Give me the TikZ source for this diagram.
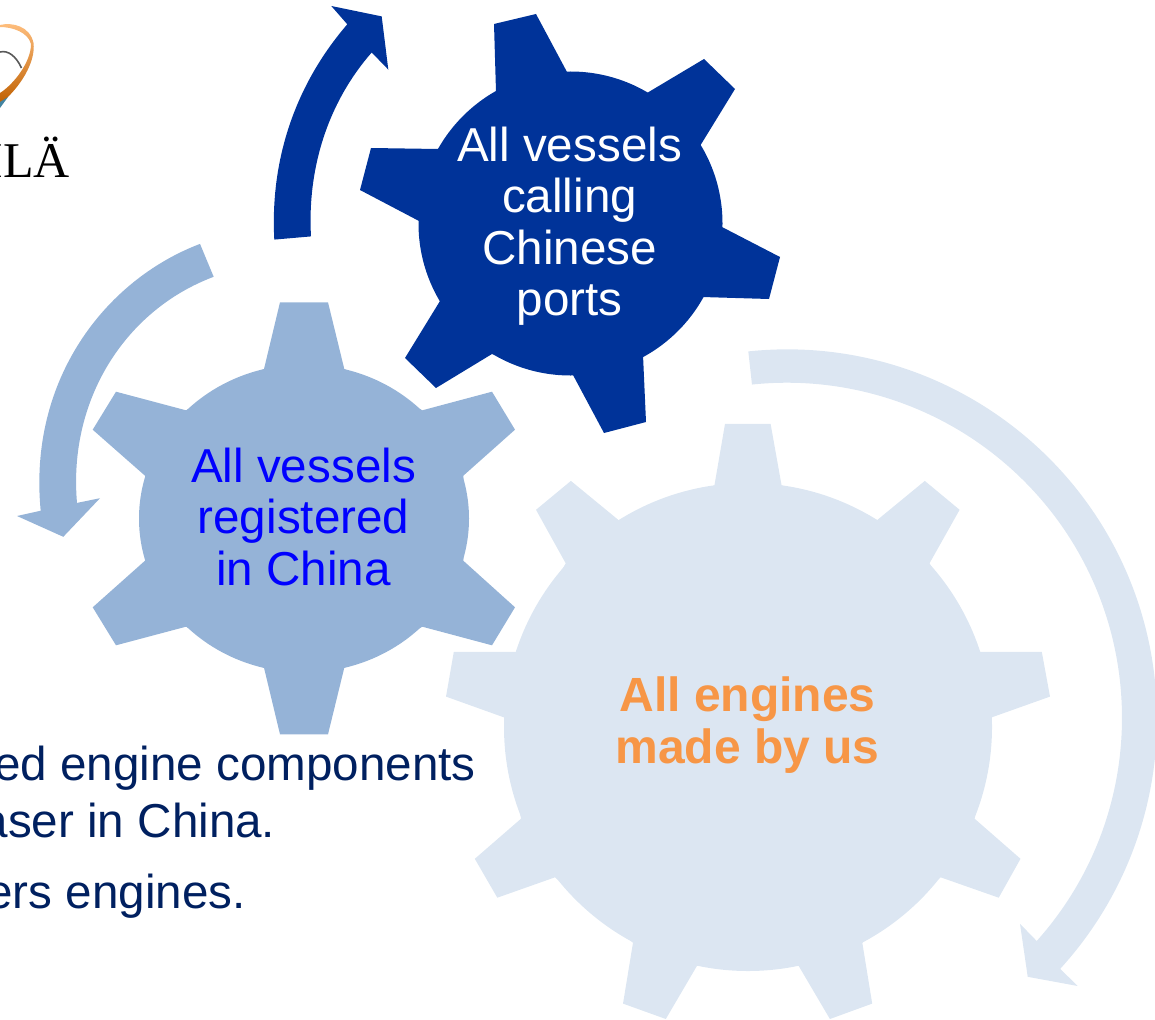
\documentclass[tikz,border=0pt]{standalone}
\usepackage{fontspec}
\setmainfont{Liberation Sans}
\newfontfamily\logofont{Liberation Serif}
\definecolor{darkblue}{HTML}{003399}
\definecolor{midblue}{HTML}{95B3D7}
\definecolor{paleblue}{HTML}{DCE6F2}
\definecolor{navy}{HTML}{002060}
\definecolor{labelorange}{HTML}{F79646}
\tikzset{
	gearlabel/.style={align=center,inner sep=0pt,font=\fontsize{47.6}{51.5}\selectfont},
	bodytext/.style={anchor=base east,inner sep=0pt,text=navy,font=\fontsize{47.6}{57}\selectfont}
}
\begin{document}
\begin{tikzpicture}[x=1pt,y=-1pt,line join=round]
	\clip (0,0) rectangle (1155,1019);
	% logo remains
	\shade[top color=orange!50,bottom color=orange!75!black]
	(0,25) .. controls (12,22) and (30,26) .. (33.5,43) .. controls (36,62) and (20,88) .. (0,104)
	-- (0,93) .. controls (14,84) and (31,62) .. (31,44) .. controls (28,32) and (12,27) .. (0,27) -- cycle;
	\fill[cyan!60!black] (0,102) -- (8,97) -- (0,108) -- cycle;
	\draw[gray!70!black,line width=1.6pt] (0,52) .. controls (8,50) and (16,56) .. (21.5,68);
	\node[inner sep=0pt,anchor=base east,font=\logofont\fontsize{50}{50}\selectfont] (logotext) at (70,177) {ILÄ};
	% arrows
	\fill[darkblue] (274.3,239.6) .. controls (270,160) and (295,85) .. (347.3,24.3)
	-- (331.3,6) -- (381.7,16.4) -- (388.3,69.6) -- (371.7,52.5)
	.. controls (330,100) and (307,165) .. (311,236.4) -- cycle;
	\fill[midblue] (200,243.9) .. controls (105,280) and (28,380) .. (40.7,510.7)
	-- (17,516) -- (63.3,536.8) -- (100,498.2) -- (77,502.9)
	.. controls (68,400) and (125,310) .. (213.7,276.8) -- cycle;
	\fill[paleblue] (748.3,351.4) arc[start angle=96,end angle=-42.4,radius=370pt]
	-- (1077.7,986) -- (1027.7,976.8) -- (1020,923.8) -- (1036.7,941)
	arc[start angle=-41.8,end angle=96,radius=335pt] -- cycle;
	% dark gear
	\fill[darkblue] (570.5,223.5) circle[radius=152pt];
	\fill[darkblue] (494,24) -- (536,14) -- (567,72) -- (647,93) -- (704,59) -- (735,89) -- (700,146)
	-- (722,227) -- (780,257) -- (769,299) -- (702,297) -- (643,355) -- (646,422) -- (604,433)
	-- (573,375) -- (492,354) -- (436,388) -- (405,358) -- (440,301) -- (419,221) -- (360,190)
	-- (371,148) -- (438,149) -- (496,92) -- cycle;
	% mid gear
	\fill[midblue] (304,518.5) ellipse[x radius=165pt,y radius=154pt];
	\fill[midblue] (280,302.3) -- (328,302.3) -- (344.3,369) -- (422.3,410.3) -- (492,391.7) -- (515,429.7)
	-- (463.3,475.7) -- (463.3,560.7) -- (515,607.3) -- (492,645.3) -- (422.3,626.7) -- (344.3,667.7)
	-- (328,734.3) -- (280,734.3) -- (264,667.7) -- (186,626.7) -- (116,645.3) -- (92.7,607.3)
	-- (145,560.7) -- (145,475.7) -- (92.7,429.7) -- (116,391.7) -- (186,410.3) -- (264,369) -- cycle;
	% pale gear
	\fill[paleblue] (748,727) circle[radius=244pt];
	\fill[paleblue] (725,423.9) -- (770.6,423.9) -- (781.6,485.5) -- (877,520.2) -- (924.8,480.9) -- (959.6,509.8)
	-- (929.5,563.3) -- (979.7,651.9) -- (1041.8,651.9) -- (1050,696.6) -- (991.6,717.4) -- (974.6,818.7)
	-- (1020.5,858.8) -- (998.7,897.7) -- (940.6,877.3) -- (862.3,942.7) -- (872.2,1003.6) -- (829.9,1019)
	-- (798.6,965.8) -- (697,965.8) -- (665.8,1019) -- (623,1003.6) -- (633,942.7) -- (555,877.3)
	-- (497.3,897.7) -- (474.8,858.8) -- (521,818.7) -- (504,717.4) -- (446,696.6) -- (453.8,651.9)
	-- (516,651.9) -- (565.7,563.3) -- (536,509.8) -- (570.9,480.9) -- (618.7,520.2) -- (714.4,485.5) -- cycle;
	% labels
	\node[gearlabel,text=white] (ports) at (569.5,226) {All vessels\\calling\\Chinese\\ports};
	\node[gearlabel,text=blue] (registered) at (303.5,516.5) {All vessels\\registered\\in China};
	\node[gearlabel,text=labelorange,font=\fontsize{48}{52}\selectfont\bfseries] (engines) at (747.5,725) {All engines\\made by us};
	\node[bodytext] (line1) at (476,780.3) {ed engine components};
	\node[bodytext] (line2) at (275.5,837.7) {aser in China.};
	\node[bodytext] (line3) at (246,908.3) {ers engines.};
\end{tikzpicture}
\end{document}
